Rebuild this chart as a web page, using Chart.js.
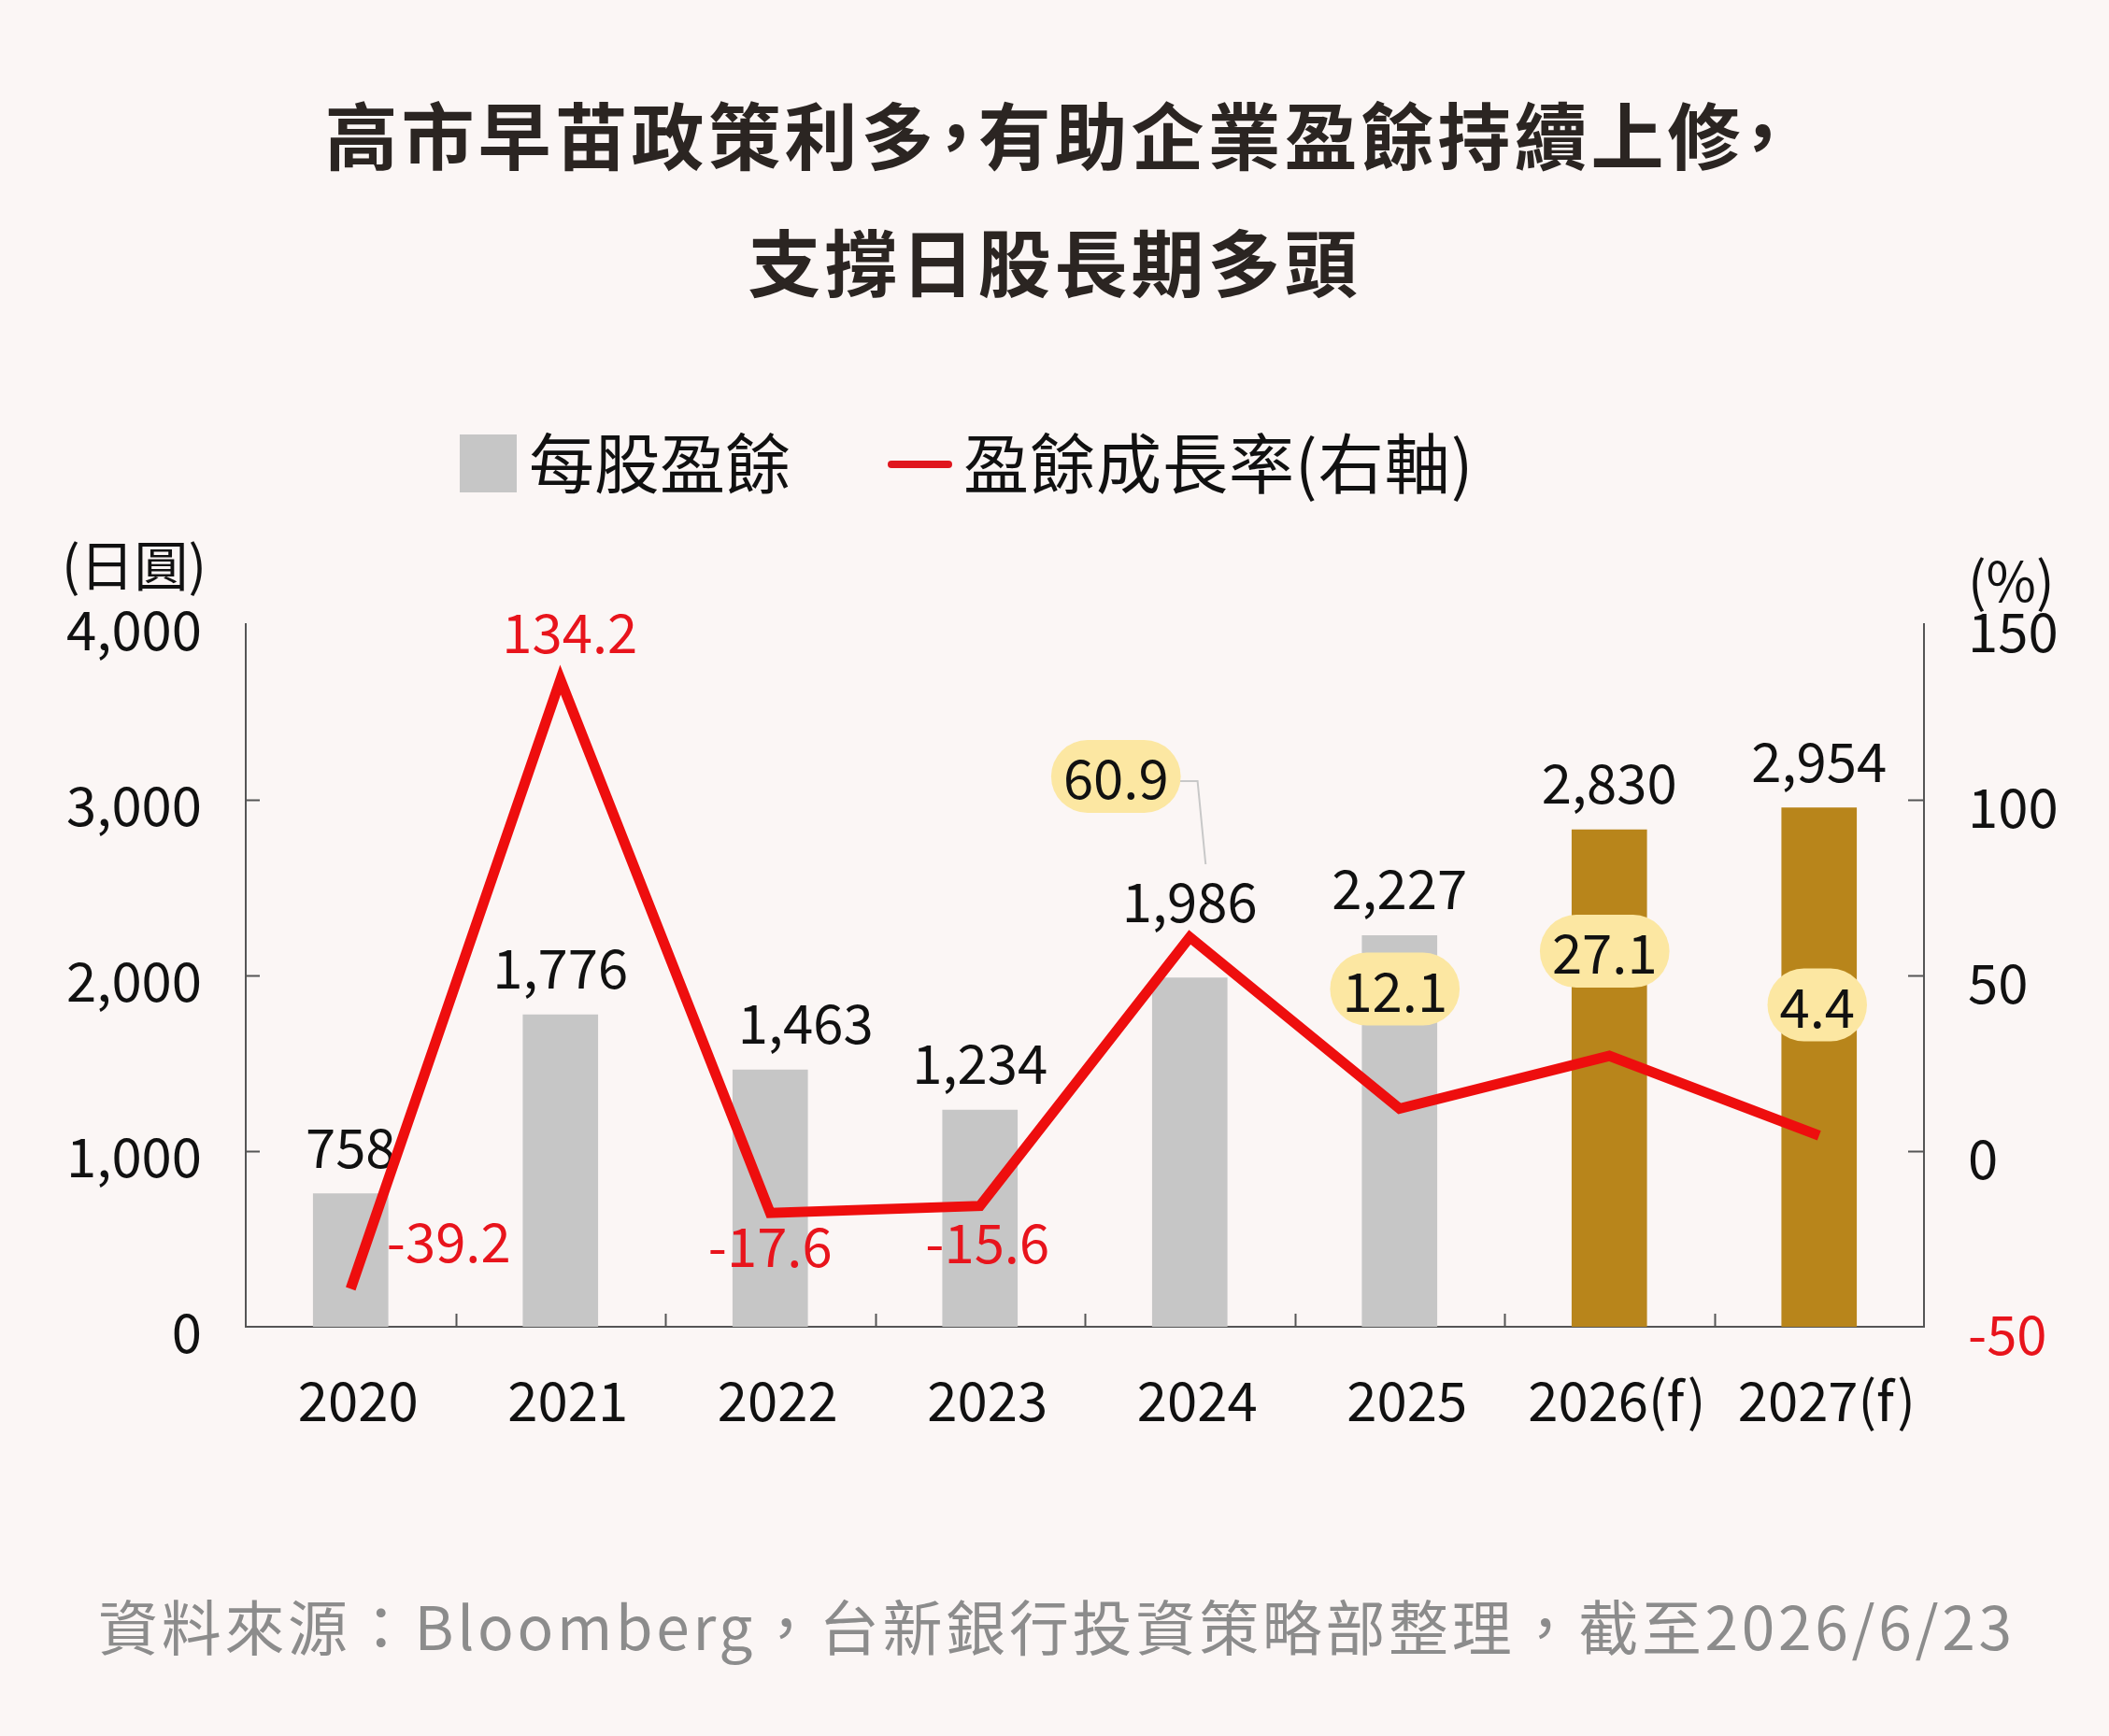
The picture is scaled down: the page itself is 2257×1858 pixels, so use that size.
<!DOCTYPE html>
<html>
<head>
<meta charset="utf-8">
<script src="https://cdn.jsdelivr.net/npm/chart.js@4.4.1/dist/chart.umd.min.js"></script>
<style>
html,body{margin:0;padding:0;background:#FBF6F5;}
body{width:2257px;height:1858px;position:relative;overflow:hidden;font-family:'Noto Sans CJK TC','Noto Sans',sans-serif;}
#chart{position:absolute;left:0;top:0;}
.t{position:absolute;white-space:nowrap;line-height:1;}
.title{left:0;width:2257px;text-align:center;font-weight:700;font-size:78px;letter-spacing:4px;color:#2B2522;font-feature-settings:"halt" 1;}
.leg{font-size:70px;color:#111;}
.unit{font-size:58px;color:#111;}
.src{font-size:64px;letter-spacing:3.7px;color:#8C8C8C;}
.box{position:absolute;}
</style>
</head>
<body>
<div class="t title" style="top:103px;">高市早苗政策利多，有助企業盈餘持續上修，</div>
<div class="t title" style="top:239px;">支撐日股長期多頭</div>

<div class="box" style="left:492px;top:465px;width:61px;height:62px;background:#C6C6C6;"></div>
<div class="t leg" style="left:566px;top:458px;">每股盈餘</div>
<div class="box" style="left:950px;top:493px;width:69px;height:8px;border-radius:4px;background:#E0161E;"></div>
<div class="t leg" style="left:1031px;top:458px;letter-spacing:1px;">盈餘成長率(右軸)</div>

<div class="t unit" style="left:66px;top:573px;">(日圓)</div>
<div class="t unit" style="left:2106px;top:590px;">(%)</div>

<div class="t src" style="left:105px;top:1706px;">資料來源：Bloomberg，台新銀行投資策略部整理，截至2026/6/23</div>

<canvas id="chart" width="2257" height="1858"></canvas>

<script>
// ---- data ----
const categories = ['2020', '2021', '2022', '2023', '2024', '2025', '2026(f)', '2027(f)'];
const epsValues = [758, 1776, 1463, 1234, 1986, 2227, 2830, 2954];          // 每股盈餘 (日圓)
const growthValues = [-39.2, 134.2, -17.6, -15.6, 60.9, 12.1, 27.1, 4.4];    // 盈餘成長率 (%)
const isForecast = [false, false, false, false, false, false, true, true];
const growthHighlighted = [false, false, false, false, true, true, true, true];
const epsAxisTicks = [0, 1000, 2000, 3000, 4000];
const growthAxisTicks = [-50, 0, 50, 100, 150];

// ---- styling ----
const FAM = "'Noto Sans CJK TC','Noto Sans',sans-serif";
const AXIS = '#555555';
const RED_LINE = '#EE0E0E';
const RED_TEXT = '#E8141C';
const fmt = v => String(v).replace(/\B(?=(\d{3})+(?!\d))/g, ',');

// label nudges (pixels) relative to the bar top / line point
const epsNudge = [[0,-50],[0,-50],[38,-50],[0,-50],[0,-82],[0,-50],[0,-50],[0,-50]];
const growthNudge = [[105,-50],[10,-50],[0,36],[8,39],[-79,-172],[-5,-128],[-5,-112],[-2,-140]];

const decor = {
  id: 'decor',
  beforeDatasetsDraw(chart) {
    const ctx = chart.ctx, a = chart.chartArea;
    const y = chart.scales.y, y1 = chart.scales.y1, x = chart.scales.x;
    ctx.save();
    ctx.strokeStyle = AXIS; ctx.lineWidth = 2;
    ctx.beginPath();
    epsAxisTicks.slice(1, -1).forEach(v => {
      const py = Math.round(y.getPixelForValue(v)) + 0.5;
      ctx.moveTo(a.left, py); ctx.lineTo(a.left + 15, py);
    });
    growthAxisTicks.slice(1, -1).forEach(v => {
      const py = Math.round(y1.getPixelForValue(v)) + 0.5;
      ctx.moveTo(a.right, py); ctx.lineTo(a.right - 17, py);
    });
    for (let i = 1; i < categories.length; i++) {
      const px = Math.round((x.getPixelForValue(i - 1) + x.getPixelForValue(i)) / 2) + 0.5;
      ctx.moveTo(px, a.bottom); ctx.lineTo(px, a.bottom - 14);
    }
    ctx.stroke();
    ctx.restore();
  },
  afterDatasetDraw(chart, args) {
    if (args.index !== 0) return;
    const ctx = chart.ctx;
    const meta = chart.getDatasetMeta(0);
    ctx.save();
    ctx.font = '58px ' + FAM;
    ctx.fillStyle = '#111';
    ctx.textAlign = 'center';
    ctx.textBaseline = 'middle';
    meta.data.forEach((bar, i) => {
      const n = epsNudge[i];
      ctx.fillText(fmt(epsValues[i]), bar.x + n[0], bar.y + n[1]);
    });
    ctx.restore();
  },
  afterDatasetsDraw(chart) {
    const ctx = chart.ctx;
    const meta = chart.getDatasetMeta(1);
    ctx.save();
    ctx.font = '58px ' + FAM;
    ctx.textAlign = 'center';
    ctx.textBaseline = 'middle';
    meta.data.forEach((pt, i) => {
      const n = growthNudge[i];
      const cx = pt.x + n[0], cy = pt.y + n[1];
      const txt = growthValues[i].toFixed(1);
      if (growthHighlighted[i]) {
        const w = ctx.measureText(txt).width + 26, h = 78;
        if (i === 4) {
          ctx.strokeStyle = '#C8C8C8'; ctx.lineWidth = 2;
          ctx.beginPath();
          ctx.moveTo(cx + w / 2 - 2, cy + 5);
          ctx.lineTo(cx + w / 2 + 18, cy + 5);
          ctx.lineTo(pt.x + 17, pt.y - 78);
          ctx.stroke();
        }
        ctx.fillStyle = '#FCE7A2';
        ctx.beginPath();
        ctx.roundRect(cx - w / 2, cy - h / 2, w, h, h / 2);
        ctx.fill();
        ctx.fillStyle = '#111';
        ctx.fillText(txt, cx, cy + 2);
      } else {
        ctx.fillStyle = RED_TEXT;
        ctx.fillText(txt, cx, cy);
      }
    });
    ctx.restore();
  }
};

new Chart(document.getElementById('chart'), {
  data: {
    labels: categories,
    datasets: [
      {
        type: 'bar', label: '每股盈餘', data: epsValues, yAxisID: 'y', order: 2,
        backgroundColor: isForecast.map(f => f ? '#B8851B' : '#C6C6C6'),
        barThickness: 80
      },
      {
        type: 'line', label: '盈餘成長率(右軸)', data: growthValues, yAxisID: 'y1', order: 1,
        borderColor: RED_LINE, borderWidth: 11, pointRadius: 0, tension: 0,
        borderJoinStyle: 'miter', borderCapStyle: 'butt', fill: false, clip: false
      }
    ]
  },
  options: {
    responsive: false, animation: false, devicePixelRatio: 1,
    layout: { padding: { top: 668, left: 0, right: 0, bottom: 0 } },
    plugins: { legend: { display: false }, tooltip: { enabled: false } },
    scales: {
      x: {
        offset: true,
        grid: { display: false, drawTicks: false },
        border: { display: true, color: AXIS, width: 2 },
        ticks: { font: { size: 58, family: FAM }, color: '#111', padding: 44, maxRotation: 0, labelOffset: 8 },
        afterFit(s) { s.height = 438; }
      },
      y: {
        position: 'left', min: 0, max: 4000,
        grid: { display: false, drawTicks: false },
        border: { display: true, color: AXIS, width: 2 },
        ticks: { font: { size: 58, family: FAM }, color: '#111', padding: 47, labelOffset: 6, callback: v => fmt(v) },
        afterBuildTicks(s) { s.ticks = epsAxisTicks.map(v => ({ value: v })); },
        afterFit(s) { s.width = 263; }
      },
      y1: {
        position: 'right', min: -50, max: 150,
        grid: { display: false, drawTicks: false },
        border: { display: true, color: AXIS, width: 2 },
        ticks: {
          font: { size: 58, family: FAM }, padding: 47, labelOffset: 8,
          color: c => (c.tick && c.tick.value < 0) ? RED_TEXT : '#111'
        },
        afterBuildTicks(s) { s.ticks = growthAxisTicks.map(v => ({ value: v })); },
        afterFit(s) { s.width = 198; }
      }
    }
  },
  plugins: [decor]
});
</script>
</body>
</html>
